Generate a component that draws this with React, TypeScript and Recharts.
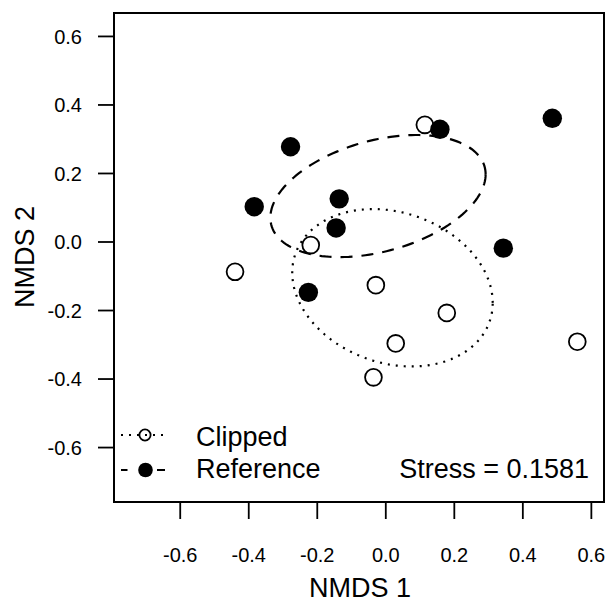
import { ScatterChart, Scatter, XAxis, YAxis, ReferenceArea, Customized } from "recharts";

// NMDS site scores
const REFERENCE_X = [0.486, 0.158, -0.278, -0.384, -0.136, -0.145, 0.343, -0.226];
const REFERENCE_Y = [0.361, 0.329, 0.278, 0.103, 0.126, 0.041, -0.018, -0.147];
const CLIPPED_X = [0.114, -0.219, -0.44, -0.029, 0.178, 0.029, -0.036, 0.559];
const CLIPPED_Y = [0.342, -0.009, -0.087, -0.126, -0.207, -0.296, -0.395, -0.291];

const AXIS_TICKS = [-0.6, -0.4, -0.2, 0, 0.2, 0.4, 0.6];
const X_DOMAIN = [-0.7933, 0.6369];
const Y_DOMAIN = [-0.7589, 0.6684];
const STRESS = 0.1581;
const LEGEND_LABELS = ["Clipped", "Reference"];

// scale on the standard-error ellipse (ordiellipse kind = "se")
const ELLIPSE_SCALE = 2.83;

const FONT = "Arial, 'Liberation Sans', sans-serif";
const DOTTED = "2 6";
const DASHED = "12 9";

type Pt = { x: number; y: number };

const toPoints = (xs: number[], ys: number[]): Pt[] => xs.map((x, i) => ({ x, y: ys[i] }));

function seEllipse(pts: Pt[], steps = 160): Pt[] {
  const n = pts.length;
  const mx = pts.reduce((s, p) => s + p.x, 0) / n;
  const my = pts.reduce((s, p) => s + p.y, 0) / n;
  let sxx = 0, syy = 0, sxy = 0;
  pts.forEach((p) => {
    sxx += (p.x - mx) ** 2;
    syy += (p.y - my) ** 2;
    sxy += (p.x - mx) * (p.y - my);
  });
  // covariance of the centroid
  const cxx = sxx / (n - 1) / n;
  const cyy = syy / (n - 1) / n;
  const cxy = sxy / (n - 1) / n;
  const a = Math.sqrt(cxx);
  const b = cxy / a;
  const c = Math.sqrt(cyy - b * b);
  const out: Pt[] = [];
  for (let i = 0; i <= steps; i++) {
    const t = (i / steps) * Math.PI * 2;
    out.push({
      x: mx + ELLIPSE_SCALE * a * Math.cos(t),
      y: my + ELLIPSE_SCALE * (b * Math.cos(t) + c * Math.sin(t)),
    });
  }
  return out;
}

const referencePts = toPoints(REFERENCE_X, REFERENCE_Y);
const clippedPts = toPoints(CLIPPED_X, CLIPPED_Y);
const referenceEllipse = seEllipse(referencePts);
const clippedEllipse = seEllipse(clippedPts);

const noMarker = () => <g />;
const openCircle = (p: any) => <circle cx={p.cx} cy={p.cy} r={8.4} fill="none" stroke="#000" strokeWidth={1.8} />;
const filledCircle = (p: any) => <circle cx={p.cx} cy={p.cy} r={9.7} fill="#000" stroke="none" />;

function Annotations() {
  return (
    <g fontFamily={FONT} fill="#000">
      {/* legend */}
      <line x1={121} y1={435} x2={167} y2={435} stroke="#000" strokeWidth={2.2} strokeDasharray={DOTTED} />
      <circle cx={145} cy={435} r={5.6} fill="none" stroke="#000" strokeWidth={1.8} />
      <line x1={121} y1={470} x2={167} y2={470} stroke="#000" strokeWidth={2.2} strokeDasharray="6.5 29.5 8 100" />
      <circle cx={145.5} cy={470} r={7.3} fill="#000" />
      <text x={196} y={446} fontSize={27}>{LEGEND_LABELS[0]}</text>
      <text x={196} y={477.5} fontSize={27}>{LEGEND_LABELS[1]}</text>
      <text x={589} y={477.5} fontSize={27} textAnchor="end">{`Stress = ${STRESS.toFixed(4)}`}</text>
      {/* axis titles */}
      <text x={360} y={597} fontSize={27} textAnchor="middle">NMDS 1</text>
      <text transform="translate(34,257) rotate(-90)" fontSize={27} textAnchor="middle">NMDS 2</text>
    </g>
  );
}

export default function App() {
  return (
    <div style={{ position: "absolute", left: 0, top: 0, width: 608, height: 603, background: "#fff" }}>
      <ScatterChart width={608} height={603} margin={{ top: 13, right: 4, bottom: 0, left: 0 }}>
        <XAxis
          type="number"
          dataKey="x"
          domain={X_DOMAIN}
          allowDataOverflow
          ticks={AXIS_TICKS}
          tickFormatter={(v: number) => v.toFixed(1)}
          axisLine={false}
          tickLine={{ stroke: "#000", strokeWidth: 1.8 }}
          tickSize={17}
          tickMargin={29}
          height={101}
          tick={{ fill: "#000", fontSize: 20, fontFamily: FONT }}
          interval={0}
        />
        <YAxis
          type="number"
          dataKey="y"
          domain={Y_DOMAIN}
          allowDataOverflow
          ticks={AXIS_TICKS}
          tickFormatter={(v: number) => v.toFixed(1)}
          axisLine={false}
          tickLine={{ stroke: "#000", strokeWidth: 1.8 }}
          tickSize={16}
          tickMargin={16}
          width={114}
          tick={{ fill: "#000", fontSize: 20, fontFamily: FONT }}
          interval={0}
        />
        <ReferenceArea
          x1={X_DOMAIN[0]}
          x2={X_DOMAIN[1]}
          y1={Y_DOMAIN[0]}
          y2={Y_DOMAIN[1]}
          fill="none"
          fillOpacity={0}
          stroke="#000"
          strokeWidth={2}
        />
        <Scatter
          name="clipped-ellipse"
          data={clippedEllipse}
          line={{ stroke: "#000", strokeWidth: 2.2, strokeDasharray: DOTTED }}
          lineJointType="linear"
          shape={noMarker}
          isAnimationActive={false}
        />
        <Scatter
          name="reference-ellipse"
          data={referenceEllipse}
          line={{ stroke: "#000", strokeWidth: 2.2, strokeDasharray: DASHED }}
          lineJointType="linear"
          shape={noMarker}
          isAnimationActive={false}
        />
        <Scatter name="Clipped" data={clippedPts} shape={openCircle} isAnimationActive={false} />
        <Scatter name="Reference" data={referencePts} shape={filledCircle} isAnimationActive={false} />
        <Customized component={Annotations} />
      </ScatterChart>
    </div>
  );
}
